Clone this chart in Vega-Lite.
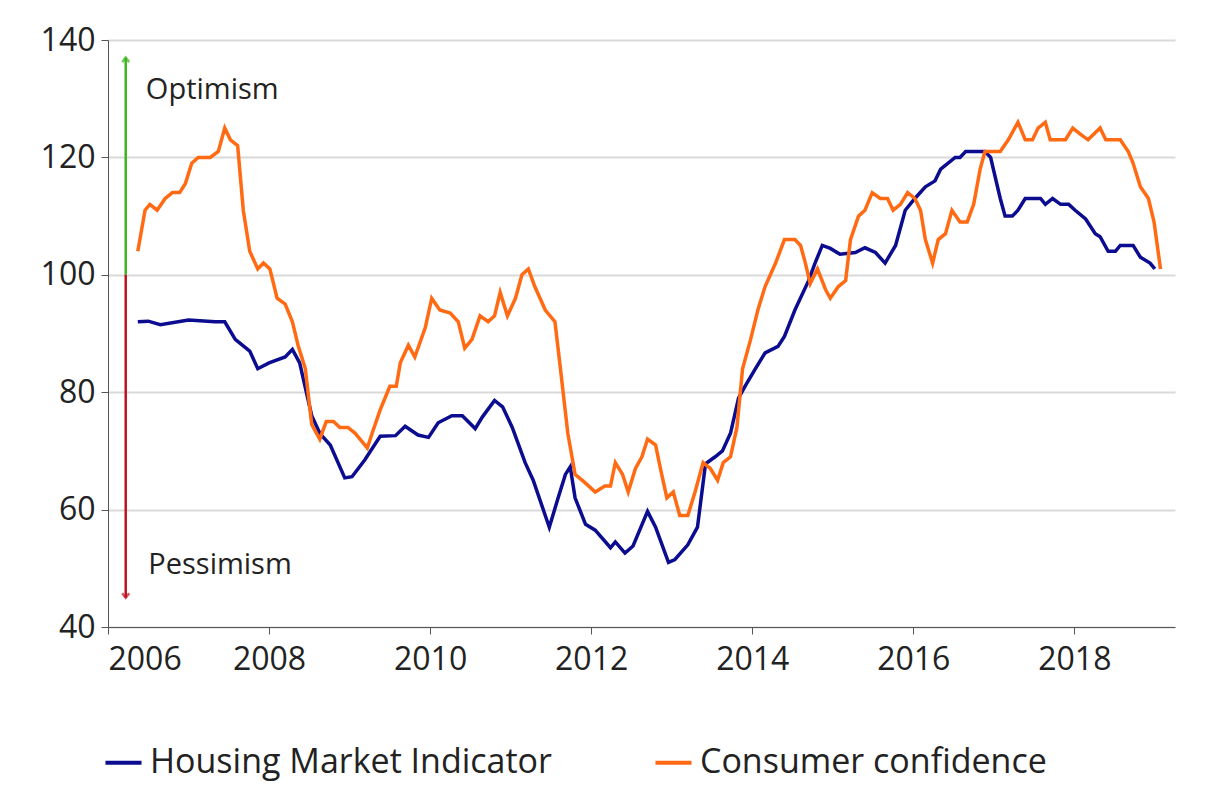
{
  "$schema": "https://vega.github.io/schema/vega-lite/v6.json",
  "width": 1067,
  "height": 587,
  "autosize": "none",
  "padding": {"left": 108, "top": 40, "right": 52, "bottom": 174},
  "background": "white",
  "config": {
    "view": {"stroke": null},
    "font": "Open Sans",
    "axis": {
      "labelFont": "Open Sans",
      "labelFontSize": 32,
      "labelColor": "#222222",
      "domainColor": "#555555",
      "tickColor": "#555555",
      "tickSize": 7,
      "title": null
    }
  },
  "datasets": {
    "series": [
      {"year": 2006.37, "value": 92, "series": "Housing Market Indicator"},
      {"year": 2006.5, "value": 92.1, "series": "Housing Market Indicator"},
      {"year": 2006.65, "value": 91.5, "series": "Housing Market Indicator"},
      {"year": 2007.0, "value": 92.3, "series": "Housing Market Indicator"},
      {"year": 2007.33, "value": 92, "series": "Housing Market Indicator"},
      {"year": 2007.45, "value": 92, "series": "Housing Market Indicator"},
      {"year": 2007.58, "value": 89, "series": "Housing Market Indicator"},
      {"year": 2007.76, "value": 87, "series": "Housing Market Indicator"},
      {"year": 2007.86, "value": 84, "series": "Housing Market Indicator"},
      {"year": 2008.0, "value": 85, "series": "Housing Market Indicator"},
      {"year": 2008.2, "value": 86, "series": "Housing Market Indicator"},
      {"year": 2008.29, "value": 87.3, "series": "Housing Market Indicator"},
      {"year": 2008.38, "value": 85, "series": "Housing Market Indicator"},
      {"year": 2008.53, "value": 76, "series": "Housing Market Indicator"},
      {"year": 2008.63, "value": 73, "series": "Housing Market Indicator"},
      {"year": 2008.76, "value": 71, "series": "Housing Market Indicator"},
      {"year": 2008.94, "value": 65.4, "series": "Housing Market Indicator"},
      {"year": 2009.03, "value": 65.6, "series": "Housing Market Indicator"},
      {"year": 2009.19, "value": 68.5, "series": "Housing Market Indicator"},
      {"year": 2009.38, "value": 72.5, "series": "Housing Market Indicator"},
      {"year": 2009.57, "value": 72.6, "series": "Housing Market Indicator"},
      {"year": 2009.69, "value": 74.2, "series": "Housing Market Indicator"},
      {"year": 2009.85, "value": 72.7, "series": "Housing Market Indicator"},
      {"year": 2009.98, "value": 72.3, "series": "Housing Market Indicator"},
      {"year": 2010.1, "value": 74.8, "series": "Housing Market Indicator"},
      {"year": 2010.27, "value": 76, "series": "Housing Market Indicator"},
      {"year": 2010.4, "value": 76, "series": "Housing Market Indicator"},
      {"year": 2010.56, "value": 73.8, "series": "Housing Market Indicator"},
      {"year": 2010.65, "value": 75.8, "series": "Housing Market Indicator"},
      {"year": 2010.8, "value": 78.6, "series": "Housing Market Indicator"},
      {"year": 2010.9, "value": 77.5, "series": "Housing Market Indicator"},
      {"year": 2011.02, "value": 74, "series": "Housing Market Indicator"},
      {"year": 2011.18, "value": 68, "series": "Housing Market Indicator"},
      {"year": 2011.28, "value": 65, "series": "Housing Market Indicator"},
      {"year": 2011.43, "value": 59, "series": "Housing Market Indicator"},
      {"year": 2011.48, "value": 57, "series": "Housing Market Indicator"},
      {"year": 2011.59, "value": 62, "series": "Housing Market Indicator"},
      {"year": 2011.68, "value": 66, "series": "Housing Market Indicator"},
      {"year": 2011.74, "value": 67.3, "series": "Housing Market Indicator"},
      {"year": 2011.8, "value": 62, "series": "Housing Market Indicator"},
      {"year": 2011.93, "value": 57.5, "series": "Housing Market Indicator"},
      {"year": 2012.05, "value": 56.5, "series": "Housing Market Indicator"},
      {"year": 2012.24, "value": 53.5, "series": "Housing Market Indicator"},
      {"year": 2012.3, "value": 54.5, "series": "Housing Market Indicator"},
      {"year": 2012.42, "value": 52.6, "series": "Housing Market Indicator"},
      {"year": 2012.52, "value": 53.8, "series": "Housing Market Indicator"},
      {"year": 2012.7, "value": 59.7, "series": "Housing Market Indicator"},
      {"year": 2012.8, "value": 57, "series": "Housing Market Indicator"},
      {"year": 2012.96, "value": 51, "series": "Housing Market Indicator"},
      {"year": 2013.04, "value": 51.5, "series": "Housing Market Indicator"},
      {"year": 2013.2, "value": 54, "series": "Housing Market Indicator"},
      {"year": 2013.32, "value": 57, "series": "Housing Market Indicator"},
      {"year": 2013.42, "value": 67.8, "series": "Housing Market Indicator"},
      {"year": 2013.54, "value": 69, "series": "Housing Market Indicator"},
      {"year": 2013.63, "value": 70, "series": "Housing Market Indicator"},
      {"year": 2013.73, "value": 73, "series": "Housing Market Indicator"},
      {"year": 2013.83, "value": 79, "series": "Housing Market Indicator"},
      {"year": 2013.91, "value": 81, "series": "Housing Market Indicator"},
      {"year": 2014.04, "value": 84, "series": "Housing Market Indicator"},
      {"year": 2014.16, "value": 86.7, "series": "Housing Market Indicator"},
      {"year": 2014.32, "value": 87.8, "series": "Housing Market Indicator"},
      {"year": 2014.4, "value": 89.5, "series": "Housing Market Indicator"},
      {"year": 2014.53, "value": 94, "series": "Housing Market Indicator"},
      {"year": 2014.7, "value": 99, "series": "Housing Market Indicator"},
      {"year": 2014.78, "value": 102, "series": "Housing Market Indicator"},
      {"year": 2014.87, "value": 105, "series": "Housing Market Indicator"},
      {"year": 2014.97, "value": 104.5, "series": "Housing Market Indicator"},
      {"year": 2015.09, "value": 103.5, "series": "Housing Market Indicator"},
      {"year": 2015.28, "value": 103.8, "series": "Housing Market Indicator"},
      {"year": 2015.4, "value": 104.6, "series": "Housing Market Indicator"},
      {"year": 2015.53, "value": 103.8, "series": "Housing Market Indicator"},
      {"year": 2015.65, "value": 102, "series": "Housing Market Indicator"},
      {"year": 2015.78, "value": 105, "series": "Housing Market Indicator"},
      {"year": 2015.9, "value": 111, "series": "Housing Market Indicator"},
      {"year": 2016.02, "value": 113, "series": "Housing Market Indicator"},
      {"year": 2016.15, "value": 115, "series": "Housing Market Indicator"},
      {"year": 2016.27, "value": 116, "series": "Housing Market Indicator"},
      {"year": 2016.34, "value": 118, "series": "Housing Market Indicator"},
      {"year": 2016.52, "value": 120, "series": "Housing Market Indicator"},
      {"year": 2016.58, "value": 120, "series": "Housing Market Indicator"},
      {"year": 2016.65, "value": 121, "series": "Housing Market Indicator"},
      {"year": 2016.89, "value": 121, "series": "Housing Market Indicator"},
      {"year": 2016.96, "value": 120, "series": "Housing Market Indicator"},
      {"year": 2017.08, "value": 113, "series": "Housing Market Indicator"},
      {"year": 2017.14, "value": 110, "series": "Housing Market Indicator"},
      {"year": 2017.23, "value": 110, "series": "Housing Market Indicator"},
      {"year": 2017.3, "value": 111, "series": "Housing Market Indicator"},
      {"year": 2017.39, "value": 113, "series": "Housing Market Indicator"},
      {"year": 2017.58, "value": 113, "series": "Housing Market Indicator"},
      {"year": 2017.64, "value": 112, "series": "Housing Market Indicator"},
      {"year": 2017.73, "value": 113, "series": "Housing Market Indicator"},
      {"year": 2017.83, "value": 112, "series": "Housing Market Indicator"},
      {"year": 2017.93, "value": 112, "series": "Housing Market Indicator"},
      {"year": 2018.01, "value": 111, "series": "Housing Market Indicator"},
      {"year": 2018.14, "value": 109.5, "series": "Housing Market Indicator"},
      {"year": 2018.26, "value": 107, "series": "Housing Market Indicator"},
      {"year": 2018.32, "value": 106.5, "series": "Housing Market Indicator"},
      {"year": 2018.42, "value": 104, "series": "Housing Market Indicator"},
      {"year": 2018.51, "value": 104, "series": "Housing Market Indicator"},
      {"year": 2018.57, "value": 105, "series": "Housing Market Indicator"},
      {"year": 2018.73, "value": 105, "series": "Housing Market Indicator"},
      {"year": 2018.82, "value": 103, "series": "Housing Market Indicator"},
      {"year": 2018.94, "value": 102, "series": "Housing Market Indicator"},
      {"year": 2019.0, "value": 101, "series": "Housing Market Indicator"},
      {"year": 2006.37, "value": 104, "series": "Consumer confidence"},
      {"year": 2006.46, "value": 111, "series": "Consumer confidence"},
      {"year": 2006.52, "value": 112, "series": "Consumer confidence"},
      {"year": 2006.61, "value": 111, "series": "Consumer confidence"},
      {"year": 2006.71, "value": 113, "series": "Consumer confidence"},
      {"year": 2006.8, "value": 114, "series": "Consumer confidence"},
      {"year": 2006.89, "value": 114, "series": "Consumer confidence"},
      {"year": 2006.96, "value": 115.5, "series": "Consumer confidence"},
      {"year": 2007.04, "value": 119, "series": "Consumer confidence"},
      {"year": 2007.12, "value": 120, "series": "Consumer confidence"},
      {"year": 2007.27, "value": 120, "series": "Consumer confidence"},
      {"year": 2007.37, "value": 121, "series": "Consumer confidence"},
      {"year": 2007.45, "value": 125, "series": "Consumer confidence"},
      {"year": 2007.52, "value": 123, "series": "Consumer confidence"},
      {"year": 2007.61, "value": 122, "series": "Consumer confidence"},
      {"year": 2007.68, "value": 111, "series": "Consumer confidence"},
      {"year": 2007.76, "value": 104, "series": "Consumer confidence"},
      {"year": 2007.86, "value": 101, "series": "Consumer confidence"},
      {"year": 2007.93, "value": 102, "series": "Consumer confidence"},
      {"year": 2008.01, "value": 101, "series": "Consumer confidence"},
      {"year": 2008.1, "value": 96, "series": "Consumer confidence"},
      {"year": 2008.2, "value": 95, "series": "Consumer confidence"},
      {"year": 2008.29, "value": 92, "series": "Consumer confidence"},
      {"year": 2008.36, "value": 88, "series": "Consumer confidence"},
      {"year": 2008.45, "value": 84, "series": "Consumer confidence"},
      {"year": 2008.53, "value": 74.5, "series": "Consumer confidence"},
      {"year": 2008.63, "value": 72, "series": "Consumer confidence"},
      {"year": 2008.71, "value": 75, "series": "Consumer confidence"},
      {"year": 2008.8, "value": 75, "series": "Consumer confidence"},
      {"year": 2008.88, "value": 74, "series": "Consumer confidence"},
      {"year": 2008.98, "value": 74, "series": "Consumer confidence"},
      {"year": 2009.07, "value": 73, "series": "Consumer confidence"},
      {"year": 2009.16, "value": 71.5, "series": "Consumer confidence"},
      {"year": 2009.22, "value": 70.5, "series": "Consumer confidence"},
      {"year": 2009.28, "value": 73, "series": "Consumer confidence"},
      {"year": 2009.38, "value": 77, "series": "Consumer confidence"},
      {"year": 2009.5, "value": 81, "series": "Consumer confidence"},
      {"year": 2009.58, "value": 81, "series": "Consumer confidence"},
      {"year": 2009.63, "value": 85, "series": "Consumer confidence"},
      {"year": 2009.73, "value": 88, "series": "Consumer confidence"},
      {"year": 2009.81, "value": 86, "series": "Consumer confidence"},
      {"year": 2009.94, "value": 91, "series": "Consumer confidence"},
      {"year": 2010.02, "value": 96, "series": "Consumer confidence"},
      {"year": 2010.12, "value": 94, "series": "Consumer confidence"},
      {"year": 2010.25, "value": 93.5, "series": "Consumer confidence"},
      {"year": 2010.35, "value": 92, "series": "Consumer confidence"},
      {"year": 2010.43, "value": 87.5, "series": "Consumer confidence"},
      {"year": 2010.52, "value": 89, "series": "Consumer confidence"},
      {"year": 2010.62, "value": 93, "series": "Consumer confidence"},
      {"year": 2010.72, "value": 92, "series": "Consumer confidence"},
      {"year": 2010.8, "value": 93, "series": "Consumer confidence"},
      {"year": 2010.87, "value": 97, "series": "Consumer confidence"},
      {"year": 2010.96, "value": 93, "series": "Consumer confidence"},
      {"year": 2011.06, "value": 96, "series": "Consumer confidence"},
      {"year": 2011.14, "value": 100, "series": "Consumer confidence"},
      {"year": 2011.22, "value": 101, "series": "Consumer confidence"},
      {"year": 2011.3, "value": 98, "series": "Consumer confidence"},
      {"year": 2011.43, "value": 94, "series": "Consumer confidence"},
      {"year": 2011.55, "value": 92, "series": "Consumer confidence"},
      {"year": 2011.61, "value": 85, "series": "Consumer confidence"},
      {"year": 2011.71, "value": 73, "series": "Consumer confidence"},
      {"year": 2011.8, "value": 66, "series": "Consumer confidence"},
      {"year": 2011.93, "value": 64.5, "series": "Consumer confidence"},
      {"year": 2012.05, "value": 63, "series": "Consumer confidence"},
      {"year": 2012.17, "value": 64, "series": "Consumer confidence"},
      {"year": 2012.24, "value": 64, "series": "Consumer confidence"},
      {"year": 2012.3, "value": 68, "series": "Consumer confidence"},
      {"year": 2012.39, "value": 66, "series": "Consumer confidence"},
      {"year": 2012.46, "value": 63, "series": "Consumer confidence"},
      {"year": 2012.55, "value": 67, "series": "Consumer confidence"},
      {"year": 2012.63, "value": 69, "series": "Consumer confidence"},
      {"year": 2012.7, "value": 72, "series": "Consumer confidence"},
      {"year": 2012.8, "value": 71, "series": "Consumer confidence"},
      {"year": 2012.86, "value": 67, "series": "Consumer confidence"},
      {"year": 2012.94, "value": 62, "series": "Consumer confidence"},
      {"year": 2013.02, "value": 63, "series": "Consumer confidence"},
      {"year": 2013.1, "value": 59, "series": "Consumer confidence"},
      {"year": 2013.2, "value": 59, "series": "Consumer confidence"},
      {"year": 2013.29, "value": 63, "series": "Consumer confidence"},
      {"year": 2013.39, "value": 68, "series": "Consumer confidence"},
      {"year": 2013.48, "value": 67, "series": "Consumer confidence"},
      {"year": 2013.57, "value": 65, "series": "Consumer confidence"},
      {"year": 2013.64, "value": 68, "series": "Consumer confidence"},
      {"year": 2013.73, "value": 69, "series": "Consumer confidence"},
      {"year": 2013.81, "value": 74, "series": "Consumer confidence"},
      {"year": 2013.88, "value": 84, "series": "Consumer confidence"},
      {"year": 2013.98, "value": 89, "series": "Consumer confidence"},
      {"year": 2014.07, "value": 94, "series": "Consumer confidence"},
      {"year": 2014.16, "value": 98, "series": "Consumer confidence"},
      {"year": 2014.29, "value": 102, "series": "Consumer confidence"},
      {"year": 2014.4, "value": 106, "series": "Consumer confidence"},
      {"year": 2014.53, "value": 106, "series": "Consumer confidence"},
      {"year": 2014.6, "value": 105, "series": "Consumer confidence"},
      {"year": 2014.66, "value": 102, "series": "Consumer confidence"},
      {"year": 2014.72, "value": 98.5, "series": "Consumer confidence"},
      {"year": 2014.81, "value": 101, "series": "Consumer confidence"},
      {"year": 2014.91, "value": 97.5, "series": "Consumer confidence"},
      {"year": 2014.97, "value": 96, "series": "Consumer confidence"},
      {"year": 2015.07, "value": 98, "series": "Consumer confidence"},
      {"year": 2015.16, "value": 99, "series": "Consumer confidence"},
      {"year": 2015.22, "value": 106, "series": "Consumer confidence"},
      {"year": 2015.32, "value": 110, "series": "Consumer confidence"},
      {"year": 2015.4, "value": 111, "series": "Consumer confidence"},
      {"year": 2015.49, "value": 114, "series": "Consumer confidence"},
      {"year": 2015.59, "value": 113, "series": "Consumer confidence"},
      {"year": 2015.68, "value": 113, "series": "Consumer confidence"},
      {"year": 2015.75, "value": 111, "series": "Consumer confidence"},
      {"year": 2015.84, "value": 112, "series": "Consumer confidence"},
      {"year": 2015.93, "value": 114, "series": "Consumer confidence"},
      {"year": 2016.02, "value": 113, "series": "Consumer confidence"},
      {"year": 2016.09, "value": 111, "series": "Consumer confidence"},
      {"year": 2016.15, "value": 106, "series": "Consumer confidence"},
      {"year": 2016.24, "value": 102, "series": "Consumer confidence"},
      {"year": 2016.31, "value": 106, "series": "Consumer confidence"},
      {"year": 2016.4, "value": 107, "series": "Consumer confidence"},
      {"year": 2016.48, "value": 111, "series": "Consumer confidence"},
      {"year": 2016.58, "value": 109, "series": "Consumer confidence"},
      {"year": 2016.67, "value": 109, "series": "Consumer confidence"},
      {"year": 2016.75, "value": 112, "series": "Consumer confidence"},
      {"year": 2016.83, "value": 118, "series": "Consumer confidence"},
      {"year": 2016.89, "value": 121, "series": "Consumer confidence"},
      {"year": 2017.02, "value": 121, "series": "Consumer confidence"},
      {"year": 2017.08, "value": 121, "series": "Consumer confidence"},
      {"year": 2017.18, "value": 123, "series": "Consumer confidence"},
      {"year": 2017.3, "value": 126, "series": "Consumer confidence"},
      {"year": 2017.39, "value": 123, "series": "Consumer confidence"},
      {"year": 2017.48, "value": 123, "series": "Consumer confidence"},
      {"year": 2017.55, "value": 125, "series": "Consumer confidence"},
      {"year": 2017.64, "value": 126, "series": "Consumer confidence"},
      {"year": 2017.7, "value": 123, "series": "Consumer confidence"},
      {"year": 2017.89, "value": 123, "series": "Consumer confidence"},
      {"year": 2017.98, "value": 125, "series": "Consumer confidence"},
      {"year": 2018.07, "value": 124, "series": "Consumer confidence"},
      {"year": 2018.17, "value": 123, "series": "Consumer confidence"},
      {"year": 2018.32, "value": 125, "series": "Consumer confidence"},
      {"year": 2018.39, "value": 123, "series": "Consumer confidence"},
      {"year": 2018.57, "value": 123, "series": "Consumer confidence"},
      {"year": 2018.67, "value": 121, "series": "Consumer confidence"},
      {"year": 2018.73, "value": 119, "series": "Consumer confidence"},
      {"year": 2018.82, "value": 115, "series": "Consumer confidence"},
      {"year": 2018.92, "value": 113, "series": "Consumer confidence"},
      {"year": 2018.99, "value": 109, "series": "Consumer confidence"},
      {"year": 2019.07, "value": 101, "series": "Consumer confidence"}
    ],
    "arrows": [
      {"x": 2006.22, "y1": 100, "y2": 137, "tip": 137, "color": "#3cb41e", "dir": "up"},
      {"x": 2006.22, "y1": 100, "y2": 45, "tip": 45, "color": "#c0121e", "dir": "down"}
    ],
    "labels": [
      {"x": 2006.47, "y": 131.5, "text": "Optimism"},
      {"x": 2006.5, "y": 50.5, "text": "Pessimism"}
    ]
  },
  "layer": [
    {
      "data": {"name": "series"},
      "mark": {"type": "line", "strokeWidth": 3.5, "clip": true},
      "encoding": {
        "x": {
          "field": "year", "type": "quantitative",
          "scale": {"domain": [2006, 2019.25], "nice": false, "zero": false},
          "axis": {"values": [2006, 2008, 2010, 2012, 2014, 2016, 2018], "format": "d", "grid": false, "labelPadding": 10}
        },
        "y": {
          "field": "value", "type": "quantitative",
          "scale": {"domain": [40, 140], "nice": false, "zero": false},
          "axis": {"values": [40, 60, 80, 100, 120, 140], "grid": true, "gridColor": "#d9d9d9", "gridWidth": 2, "labelPadding": 6}
        },
        "color": {
          "field": "series", "type": "nominal",
          "sort": ["Housing Market Indicator", "Consumer confidence"],
          "scale": {"domain": ["Housing Market Indicator", "Consumer confidence"], "range": ["#0b0c8f", "#ff6a13"]},
          "legend": {
            "title": null, "orient": "none", "direction": "horizontal",
            "legendX": -5, "legendY": 702,
            "symbolType": "stroke", "symbolSize": 1300, "symbolStrokeWidth": 4,
            "labelFontSize": 34, "labelFont": "Open Sans", "labelColor": "#222222",
            "labelLimit": 0, "columnPadding": 95, "labelOffset": 6
          }
        }
      }
    },
    {
      "data": {"name": "arrows"},
      "mark": {"type": "rule", "strokeWidth": 2.5},
      "encoding": {
        "x": {"field": "x", "type": "quantitative"},
        "y": {"field": "y1", "type": "quantitative"},
        "y2": {"field": "y2"},
        "color": {"field": "color", "type": "nominal", "scale": null, "legend": null}
      }
    },
    {
      "data": {"name": "arrows"},
      "mark": {"type": "point", "filled": false, "strokeWidth": 2.5, "size": 400},
      "encoding": {
        "x": {"field": "x", "type": "quantitative"},
        "y": {"field": "tip", "type": "quantitative"},
        "shape": {"field": "dir", "type": "nominal", "scale": {"domain": ["up", "down"], "range": ["M-0.35,0.45L0,0L0.35,0.45", "M-0.35,-0.45L0,0L0.35,-0.45"]}, "legend": null},
        "color": {"field": "color", "type": "nominal", "scale": null, "legend": null}
      }
    },
    {
      "data": {"name": "labels"},
      "mark": {"type": "text", "align": "left", "baseline": "middle", "fontSize": 29, "font": "Open Sans", "color": "#222222"},
      "encoding": {
        "x": {"field": "x", "type": "quantitative"},
        "y": {"field": "y", "type": "quantitative"},
        "text": {"field": "text"}
      }
    }
  ]
}
